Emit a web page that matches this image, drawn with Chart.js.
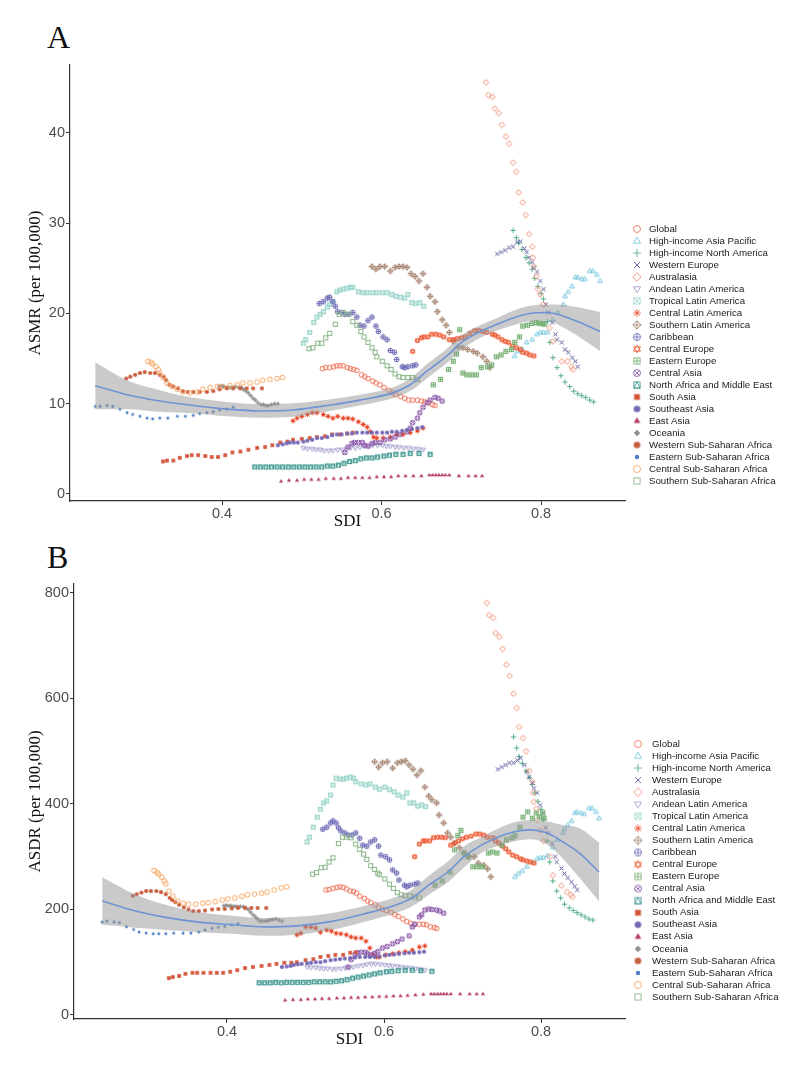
<!DOCTYPE html>
<html>
<head>
<meta charset="utf-8">
<script src="https://cdn.jsdelivr.net/npm/chart.js@4.4.1/dist/chart.umd.min.js"></script>
<style>
  body { margin: 0; background: #fff; width: 800px; height: 1079px; position: relative; overflow: hidden; }
  canvas { position: absolute; left: 0; }
  #chartA { top: 0; }
  #chartB { top: 540px; }
  .panel { position: absolute; left: 47px; font-family: "Liberation Serif", "Times New Roman", serif; font-size: 32px; line-height: 32px; color: #111; }
</style>
</head>
<body>
<div class="panel" style="top:21px">A</div>
<div class="panel" style="top:541px">B</div>
<canvas id="chartA" width="800" height="540"></canvas>
<canvas id="chartB" width="800" height="539"></canvas>
<script>
// Regioni GBD, nell'ordine della legenda.
const regions = [
  "Global", "High-income Asia Pacific", "High-income North America", "Western Europe",
  "Australasia", "Andean Latin America", "Tropical Latin America", "Central Latin America",
  "Southern Latin America", "Caribbean", "Central Europe", "Eastern Europe", "Central Asia",
  "North Africa and Middle East", "South Asia", "Southeast Asia", "East Asia", "Oceania",
  "Western Sub-Saharan Africa", "Eastern Sub-Saharan Africa", "Central Sub-Saharan Africa",
  "Southern Sub-Saharan Africa",
];

// SDI, ASMR e ASDR, una serie per regione.
const sdiGlobal = [0.526,0.530,0.535,0.540,0.544,0.548,0.552,0.557,0.561,0.565,0.569,0.575,0.579,0.583,0.589,0.593,0.598,0.603,0.609,0.614,0.618,0.624,0.629,0.634,0.639,0.645,0.650,0.654,0.659,0.664,0.667];
const asmrGlobal = [13.9,14.0,14.0,14.1,14.2,14.2,14.2,14.0,13.9,13.8,13.7,13.2,13.0,12.8,12.5,12.3,12.1,11.8,11.5,11.2,11.0,10.8,10.6,10.4,10.4,10.4,10.3,10.2,10.1,9.9,9.8];
const asdrGlobal = [237,238,240,242,243,242,239,235,234,231,225,221,216,213,209,204,200,198,194,190,187,182,177,174,172,172,172,171,167,166,164];

const sdiHiap = [0.767,0.771,0.776,0.782,0.789,0.795,0.799,0.803,0.808,0.815,0.821,0.828,0.830,0.834,0.839,0.843,0.846,0.851,0.855,0.861,0.865,0.870,0.874];
const asmrHiap = [15.3,15.8,16.1,16.8,17.1,17.7,17.9,17.9,17.9,19.3,20.1,21.0,21.9,22.4,23.0,24.0,24.0,23.8,23.8,24.7,24.7,24.3,23.6];
const asdrHiap = [262,268,273,281,290,296,298,298,302,318,332,345,352,360,368,383,385,383,381,392,392,385,373];

const sdiHina = [0.765,0.769,0.772,0.776,0.781,0.785,0.789,0.792,0.796,0.800,0.803,0.808,0.811,0.815,0.820,0.825,0.830,0.836,0.841,0.846,0.851,0.856,0.861,0.866];
const asmrHina = [29.2,28.4,27.8,27.1,26.2,25.6,24.9,23.9,23.0,22.2,21.6,19.1,16.8,15.1,14.0,13.1,12.4,11.9,11.4,11.1,10.9,10.7,10.4,10.2];
const asdrHina = [527,506,490,477,462,450,437,421,405,390,370,330,290,254,235,222,210,203,198,194,190,186,182,180];

const sdiWEurope = [0.745,0.750,0.755,0.760,0.765,0.770,0.774,0.779,0.782,0.785,0.789,0.791,0.795,0.799,0.803,0.806,0.809,0.814,0.818,0.820,0.826,0.830,0.834,0.839,0.843,0.846];
const asmrWEurope = [26.6,26.8,27.0,27.3,27.4,27.9,28.0,27.2,26.8,26.2,25.7,25.1,24.6,23.6,22.7,21.0,20.1,19.0,17.7,17.1,16.8,16.0,15.7,15.1,14.7,14.1];
const asdrWEurope = [466,470,474,478,478,483,487,474,461,451,440,430,421,398,383,355,345,325,300,290,278,268,260,252,244,237];

const sdiAustralasia = [0.731,0.734,0.739,0.742,0.747,0.751,0.756,0.760,0.765,0.769,0.772,0.777,0.781,0.785,0.789,0.790,0.791,0.794,0.796,0.799,0.803,0.811,0.815,0.826,0.833,0.838,0.840];
const asmrAustralasia = [45.6,44.2,44.0,42.7,42.2,40.9,39.6,38.8,36.7,35.7,33.4,32.3,30.9,28.8,27.4,26.2,25.2,24.1,22.7,22.1,21.0,18.4,16.9,14.7,14.7,14.1,13.8];
const asdrAustralasia = [781,758,753,724,717,694,664,643,609,582,546,525,500,463,442,421,404,391,370,350,330,300,265,245,233,228,224];

const sdiAndean = [0.502,0.507,0.513,0.518,0.523,0.528,0.534,0.539,0.545,0.551,0.556,0.561,0.567,0.573,0.578,0.584,0.589,0.595,0.601,0.606,0.611,0.617,0.622,0.628,0.634,0.640,0.646,0.652];
const asmrAndean = [5.1,5.0,5.0,4.9,4.9,4.8,4.8,4.8,4.9,4.9,5.0,5.1,5.1,5.2,5.3,5.3,5.4,5.4,5.4,5.3,5.3,5.2,5.2,5.1,5.1,5.0,5.0,4.9];
const asdrAndean = [91,90,90,89,88,88,87,87,88,89,90,91,93,94,96,97,97,96,95,94,93,92,91,90,89,88,87,85];

const sdiTropical = [0.502,0.505,0.510,0.515,0.519,0.523,0.527,0.532,0.535,0.539,0.544,0.548,0.552,0.557,0.561,0.564,0.571,0.577,0.582,0.589,0.594,0.601,0.607,0.613,0.618,0.624,0.629,0.633,0.638,0.643,0.648,0.653];
const asmrTropical = [16.7,17.1,17.9,19.0,19.6,19.9,20.2,20.7,21.0,21.3,22.4,22.6,22.7,22.8,22.9,22.9,22.4,22.3,22.3,22.3,22.3,22.3,22.3,22.1,21.9,21.8,21.7,22.1,21.2,21.1,21.2,20.8];
const asdrTropical = [328,337,356,375,390,402,406,417,436,449,447,447,449,451,449,442,438,436,438,432,428,432,427,423,417,413,421,402,402,396,398,395];

const sdiCentralLA = [0.489,0.494,0.500,0.507,0.513,0.519,0.527,0.533,0.539,0.545,0.552,0.558,0.564,0.571,0.577,0.582,0.586,0.590,0.594,0.602,0.611,0.619,0.627,0.636,0.645,0.652];
const asmrCentralLA = [8.1,8.4,8.6,8.8,9.0,9.0,8.8,8.6,8.4,8.6,8.4,8.4,8.3,8.0,7.7,7.4,6.9,6.3,6.2,6.2,6.3,6.6,6.6,6.8,7.0,7.3];
const asdrCentralLA = [152,155,167,167,165,157,161,159,155,154,152,148,146,146,140,127,115,110,110,114,116,118,120,123,129,131];

const sdiSouthernLA = [0.588,0.593,0.598,0.604,0.611,0.617,0.622,0.627,0.632,0.637,0.642,0.647,0.652,0.657,0.661,0.667,0.670,0.676,0.681,0.685,0.690,0.696,0.702,0.708,0.715,0.720,0.727,0.732,0.736];
const asmrSouthernLA = [25.2,24.9,25.2,25.2,24.7,25.1,25.2,25.2,25.1,24.4,24.1,23.6,24.4,22.9,21.9,21.3,20.2,19.3,18.7,17.9,16.9,16.3,16.2,16.0,15.8,15.6,15.2,14.7,14.0];
const asdrSouthernLA = [480,470,478,480,468,478,480,482,474,466,455,463,432,415,408,402,379,364,345,337,326,317,307,301,300,288,284,277,262];

const sdiCaribbean = [0.522,0.527,0.532,0.535,0.539,0.542,0.545,0.550,0.554,0.559,0.564,0.569,0.573,0.578,0.583,0.588,0.593,0.596,0.602,0.607,0.611,0.616,0.619,0.626,0.629,0.633,0.639,0.643];
const asmrCaribbean = [21.1,21.3,21.7,21.8,21.3,20.8,20.2,20.1,19.9,19.9,20.1,19.6,18.7,18.6,19.2,19.6,18.6,18.0,17.4,17.1,15.9,15.7,14.9,14.1,14.0,14.1,14.2,14.3];
const asdrCaribbean = [352,356,364,368,364,355,349,345,341,341,345,335,322,320,328,332,320,303,300,294,275,269,256,246,243,246,248,250];

const sdiCEurope = [0.639,0.645,0.650,0.653,0.658,0.663,0.668,0.673,0.678,0.685,0.690,0.695,0.700,0.705,0.711,0.717,0.722,0.727,0.732,0.739,0.742,0.746,0.751,0.755,0.759,0.764,0.769,0.774,0.777,0.782,0.786,0.791];
const asmrCEurope = [15.8,17.0,17.3,17.4,17.4,17.7,17.7,17.6,17.4,17.1,17.1,17.2,17.3,17.4,17.8,18.1,18.1,18.0,17.9,17.7,17.6,17.4,17.1,16.9,16.8,16.4,16.2,16.0,15.7,15.6,15.4,15.3];
const asdrCEurope = [300,324,330,330,330,336,337,337,336,322,326,330,334,337,339,343,343,341,337,336,330,326,320,315,309,303,300,296,294,292,290,288];

const sdiEEurope = [0.665,0.674,0.684,0.690,0.694,0.698,0.702,0.707,0.713,0.719,0.725,0.733,0.738,0.744,0.750,0.756,0.763,0.767,0.773,0.777,0.783,0.789,0.794,0.798,0.802,0.804];
const asmrEEurope = [12.1,12.7,13.8,14.7,15.5,18.2,13.4,13.2,13.2,13.2,14.0,14.1,14.3,15.2,15.4,15.8,16.0,16.8,17.4,18.6,18.7,18.9,19.0,18.9,18.9,18.8];
const asdrEEurope = [246,254,271,313,340,350,307,300,281,281,281,307,309,307,322,332,336,340,356,375,385,373,383,375,383,373];

const sdiCAsia = [0.554,0.558,0.563,0.566,0.571,0.576,0.579,0.583,0.588,0.592,0.598,0.604,0.611,0.617,0.623,0.632,0.636,0.639,0.645,0.648,0.652,0.657,0.661,0.667,0.671,0.676];
const asmrCAsia = [4.6,5.2,5.6,5.7,5.7,5.7,5.4,5.3,5.6,5.7,5.7,6.0,6.1,6.3,6.6,6.9,7.3,7.9,8.4,9.0,9.6,10.1,10.4,10.7,10.6,10.3];
const asdrCAsia = [91,105,115,118,119,119,116,114,117,120,127,130,135,139,144,150,167,172,186,190,199,201,200,199,197,193];

const sdiName = [0.441,0.448,0.455,0.462,0.469,0.476,0.483,0.490,0.497,0.504,0.511,0.518,0.525,0.532,0.539,0.546,0.553,0.560,0.567,0.574,0.581,0.588,0.595,0.603,0.610,0.618,0.627,0.636,0.647,0.661];
const asmrName = [3.0,3.0,3.0,3.0,3.0,3.0,3.0,3.0,3.0,3.0,3.0,3.0,3.0,3.1,3.1,3.2,3.4,3.6,3.7,3.9,4.0,4.0,4.1,4.2,4.3,4.4,4.4,4.5,4.5,4.4];
const asdrName = [61,61,61,62,61,62,62,62,62,62,63,63,63,63,64,65,67,70,72,74,76,78,80,82,83,84,85,85,84,83];

const sdiSAsia = [0.326,0.331,0.339,0.347,0.356,0.362,0.370,0.379,0.387,0.395,0.404,0.413,0.423,0.433,0.444,0.454,0.463,0.473,0.482,0.489,0.500,0.510,0.519,0.529,0.538,0.548,0.557,0.564];
const asmrSAsia = [3.6,3.7,3.7,4.0,4.2,4.3,4.3,4.2,4.1,4.1,4.3,4.6,4.7,4.9,5.1,5.2,5.4,5.7,5.8,6.0,6.1,6.2,6.3,6.4,6.6,6.6,6.7,6.8];
const asdrSAsia = [70,72,74,78,80,80,80,80,80,80,82,85,89,91,93,95,97,99,99,100,104,106,110,112,114,114,118,119];

const sdiSEAsia = [0.470,0.476,0.481,0.485,0.490,0.495,0.502,0.507,0.513,0.519,0.525,0.532,0.538,0.544,0.550,0.557,0.563,0.569,0.576,0.582,0.588,0.594,0.601,0.607,0.613,0.619,0.626,0.632,0.638,0.645,0.651];
const asmrSEAsia = [5.4,5.5,5.6,5.7,5.7,5.7,5.8,5.9,6.0,6.2,6.2,6.3,6.5,6.6,6.6,6.7,6.7,6.8,6.8,6.8,6.8,6.8,6.8,6.8,6.9,6.9,7.0,7.1,7.2,7.3,7.4];
const asdrSEAsia = [91,92,93,95,96,97,98,99,100,100,102,104,105,106,107,108,109,110,110,110,110,111,113,114,115,116,117,118,118,119,120];

const sdiEAsia = [0.474,0.484,0.494,0.503,0.512,0.521,0.530,0.540,0.549,0.558,0.567,0.576,0.585,0.594,0.603,0.612,0.621,0.630,0.640,0.650,0.660,0.664,0.668,0.672,0.676,0.680,0.685,0.697,0.709,0.718,0.726];
const asmrEAsia = [1.4,1.5,1.5,1.6,1.6,1.6,1.7,1.7,1.7,1.8,1.8,1.8,1.8,1.9,1.9,1.9,2.0,2.0,2.0,2.0,2.1,2.1,2.1,2.1,2.1,2.1,2.1,2.0,2.0,2.0,2.0];
const asdrEAsia = [28,29,29,30,30,31,31,32,32,33,33,34,34,35,35,36,36,37,38,39,40,40,40,40,40,40,40,40,40,40,40];

const sdiOceania = [0.396,0.399,0.402,0.405,0.408,0.411,0.414,0.417,0.421,0.424,0.427,0.430,0.433,0.436,0.439,0.442,0.445,0.449,0.452,0.455,0.458,0.462,0.466,0.470];
const asmrOceania = [11.9,12.0,11.9,11.8,11.8,11.8,11.8,11.9,11.8,11.8,11.6,11.4,11.2,10.9,10.6,10.4,10.1,9.9,9.9,9.8,9.8,9.9,10.0,10.0];
const asdrOceania = [207,208,207,207,206,206,205,206,205,203,200,195,190,186,182,178,178,178,179,180,181,182,180,178];

const sdiWSSA = [0.280,0.285,0.291,0.297,0.303,0.310,0.316,0.322,0.327,0.330,0.334,0.339,0.345,0.351,0.357,0.364,0.372,0.381,0.389,0.397,0.406,0.414,0.423,0.431,0.439,0.450];
const asmrWSSA = [12.8,13.0,13.2,13.4,13.5,13.4,13.4,13.2,13.0,12.6,12.1,11.9,11.7,11.4,11.3,11.3,11.3,11.3,11.4,11.6,11.7,11.7,11.7,11.7,11.7,11.7];
const asdrWSSA = [226,229,232,235,235,235,233,229,222,218,214,209,204,200,197,197,198,200,201,201,202,203,203,203,203,203];

const sdiESSA = [0.241,0.247,0.256,0.263,0.272,0.281,0.288,0.297,0.306,0.313,0.322,0.332,0.344,0.354,0.364,0.372,0.381,0.389,0.397,0.406,0.414];
const asmrESSA = [9.7,9.7,9.8,9.7,9.4,9.0,8.8,8.6,8.4,8.3,8.4,8.4,8.6,8.6,8.7,8.9,9.0,9.1,9.3,9.4,9.6];
const asdrESSA = [176,178,176,175,167,162,157,155,154,154,154,155,155,155,157,161,164,166,168,171,173];

const sdiCSSA = [0.307,0.311,0.313,0.317,0.320,0.322,0.326,0.331,0.337,0.344,0.351,0.360,0.369,0.376,0.385,0.394,0.401,0.410,0.419,0.426,0.435,0.444,0.451,0.460,0.469,0.476];
const asmrCSSA = [14.7,14.6,14.4,14.1,13.8,13.4,12.9,12.3,11.9,11.6,11.3,11.2,11.3,11.6,11.8,11.9,11.9,12.0,12.1,12.3,12.3,12.4,12.6,12.7,12.8,12.9];
const asdrCSSA = [274,270,267,261,254,249,235,225,216,212,210,210,212,213,215,218,220,222,225,228,229,231,233,237,241,243];

const sdiSSSA = [0.509,0.514,0.520,0.525,0.530,0.535,0.542,0.547,0.552,0.558,0.564,0.569,0.574,0.578,0.583,0.588,0.592,0.594,0.601,0.607,0.612,0.617,0.622,0.627,0.633,0.639,0.645];
const asmrSSSA = [16.1,16.2,16.7,16.7,17.3,17.8,18.8,19.9,20.1,19.9,19.1,18.7,18.0,17.4,16.8,16.2,15.7,15.2,14.7,14.2,13.8,13.3,13.0,12.9,12.9,12.9,12.7];
const asdrSSSA = [267,270,279,280,290,298,325,337,337,336,324,314,305,295,283,276,269,266,258,248,240,232,228,226,226,224,222];

// Curva loess e banda di confidenza.
const fitSdi = [0.241,0.281,0.322,0.364,0.406,0.448,0.489,0.532,0.573,0.614,0.636,0.657,0.682,0.702,0.724,0.745,0.765,0.786,0.808,0.828,0.849,0.874];
const asmrFit = [12.0,11.0,10.3,9.8,9.4,9.2,9.3,9.8,10.4,11.2,12.1,13.6,15.3,16.9,18.0,18.8,19.5,20.0,20.1,19.7,19.0,18.0];
const asmrUpper = [14.6,12.6,11.5,10.65,10.2,9.95,10.05,10.45,11.0,11.8,12.8,14.4,16.1,17.7,18.7,19.5,20.3,20.85,21.0,20.95,20.65,20.15];
const asmrLower = [9.4,9.4,9.1,8.95,8.6,8.45,8.55,9.15,9.8,10.6,11.4,12.8,14.5,16.1,17.3,18.1,18.7,19.15,19.2,18.45,17.35,15.85];
const asdrFit = [216,198,185,176,171,167,169,177,191,208,222,246,272,300,322,337,347,351,345,328,307,271];
const asdrUpper = [261,230,209,195,188,184,186,193,206,223,238,264,292,320,337,353,365,369,367,360,354,327];
const asdrLower = [171,166,161,157,154,150,152,161,176,193,206,228,252,280,307,321,329,333,323,296,260,215];

// Etichette degli assi.
const sdiTicks = [0.4, 0.6, 0.8];
const asmrTicks = [0, 10, 20, 30, 40];
const asdrTicks = [0, 200, 400, 600, 800];

const sdiSeries = [sdiGlobal, sdiHiap, sdiHina, sdiWEurope, sdiAustralasia, sdiAndean, sdiTropical, sdiCentralLA, sdiSouthernLA, sdiCaribbean, sdiCEurope, sdiEEurope, sdiCAsia, sdiName, sdiSAsia, sdiSEAsia, sdiEAsia, sdiOceania, sdiWSSA, sdiESSA, sdiCSSA, sdiSSSA];
const asmrSeries = [asmrGlobal, asmrHiap, asmrHina, asmrWEurope, asmrAustralasia, asmrAndean, asmrTropical, asmrCentralLA, asmrSouthernLA, asmrCaribbean, asmrCEurope, asmrEEurope, asmrCAsia, asmrName, asmrSAsia, asmrSEAsia, asmrEAsia, asmrOceania, asmrWSSA, asmrESSA, asmrCSSA, asmrSSSA];
const asdrSeries = [asdrGlobal, asdrHiap, asdrHina, asdrWEurope, asdrAustralasia, asdrAndean, asdrTropical, asdrCentralLA, asdrSouthernLA, asdrCaribbean, asdrCEurope, asdrEEurope, asdrCAsia, asdrName, asdrSAsia, asdrSEAsia, asdrEAsia, asdrOceania, asdrWSSA, asdrESSA, asdrCSSA, asdrSSSA];

// Stile dei simboli (forme ggplot 1-22).
const regionColors = ["#EE6E55", "#6FC4DB", "#55AE8B", "#4D4C95", "#F28D70", "#9D99CB", "#9DD6CB", "#E94B2E", "#A58470", "#6E6CB6", "#EE5B33", "#74AF72", "#8B57A8", "#3F9791", "#D4553C", "#7568B6", "#B13A63", "#8F8F8F", "#C95D3F", "#4B7DC3", "#F6A45E", "#86B586"];
const regionShapes = ["circle", "triangle", "plus", "cross", "diamond", "triangleDown", "squareCross", "asterisk", "diamondPlus", "circlePlus", "starDavid", "squarePlus", "circleCross", "squareTriangle", "squareFilled", "circleFilled", "triangleFilled", "diamondFilled", "circleFilled", "dot", "circle", "square"];

// Disegna un simbolo su un piccolo canvas da usare come pointStyle.
function makeSymbol(shape, color, r, lw) {
  const size = Math.ceil(r * 2.6 + 4);
  const c = document.createElement("canvas");
  c.width = size;
  c.height = size;
  const g = c.getContext("2d");
  g.translate(size / 2, size / 2);
  g.strokeStyle = color;
  g.fillStyle = color;
  g.lineWidth = lw;
  const h = r * 0.88;
  const line = (x1, y1, x2, y2) => { g.beginPath(); g.moveTo(x1, y1); g.lineTo(x2, y2); g.stroke(); };
  const tri = (down) => {
    const s = down ? -1 : 1;
    g.beginPath();
    g.moveTo(0, -s * r * 1.1);
    g.lineTo(r * 1.0, s * r * 0.62);
    g.lineTo(-r * 1.0, s * r * 0.62);
    g.closePath();
  };
  const diamond = (d) => {
    g.beginPath();
    g.moveTo(0, -d); g.lineTo(d, 0); g.lineTo(0, d); g.lineTo(-d, 0);
    g.closePath();
  };
  const circle = () => { g.beginPath(); g.arc(0, 0, r, 0, Math.PI * 2); };

  switch (shape) {
    case "circle": circle(); g.stroke(); break;
    case "triangle": tri(false); g.stroke(); break;
    case "triangleDown": tri(true); g.stroke(); break;
    case "plus": line(-r * 1.15, 0, r * 1.15, 0); line(0, -r * 1.15, 0, r * 1.15); break;
    case "cross": line(-r * 0.85, -r * 0.85, r * 0.85, r * 0.85); line(-r * 0.85, r * 0.85, r * 0.85, -r * 0.85); break;
    case "diamond": diamond(r * 1.2); g.stroke(); break;
    case "squareCross": g.strokeRect(-h, -h, 2 * h, 2 * h); line(-h, -h, h, h); line(-h, h, h, -h); break;
    case "asterisk":
      line(-r * 1.1, 0, r * 1.1, 0); line(0, -r * 1.1, 0, r * 1.1);
      line(-r * 0.8, -r * 0.8, r * 0.8, r * 0.8); line(-r * 0.8, r * 0.8, r * 0.8, -r * 0.8);
      break;
    case "diamondPlus": diamond(r * 1.2); g.stroke(); line(-r * 1.2, 0, r * 1.2, 0); line(0, -r * 1.2, 0, r * 1.2); break;
    case "circlePlus": circle(); g.stroke(); line(-r, 0, r, 0); line(0, -r, 0, r); break;
    case "starDavid": tri(false); g.stroke(); tri(true); g.stroke(); break;
    case "squarePlus": g.strokeRect(-h, -h, 2 * h, 2 * h); line(-h, 0, h, 0); line(0, -h, 0, h); break;
    case "circleCross": {
      const d = r * 0.707;
      circle(); g.stroke(); line(-d, -d, d, d); line(-d, d, d, -d);
      break;
    }
    case "squareTriangle":
      g.strokeRect(-h, -h, 2 * h, 2 * h);
      g.beginPath(); g.moveTo(0, -h); g.lineTo(h, h); g.lineTo(-h, h); g.closePath(); g.stroke();
      break;
    case "squareFilled": g.fillRect(-h, -h, 2 * h, 2 * h); break;
    case "circleFilled": circle(); g.fill(); break;
    case "triangleFilled": tri(false); g.fill(); break;
    case "diamondFilled": diamond(r * 1.2); g.fill(); break;
    case "dot": circle(); g.fill(); break;
    case "square": g.strokeRect(-h, -h, 2 * h, 2 * h); break;
  }
  return c;
}

function symbolRadius(shape, legend) {
  if (shape === "dot") return legend ? 2.2 : 1.45;
  if (shape === "diamondFilled") return legend ? 2.7 : 1.8;
  if (shape.endsWith("Filled")) return legend ? 3.3 : 2.1;
  return legend ? 3.5 : 2.35;
}

const pointSymbols = regionShapes.map((s, i) => makeSymbol(s, regionColors[i], symbolRadius(s, false), 1.0));
const legendSymbols = regionShapes.map((s, i) => makeSymbol(s, regionColors[i], symbolRadius(s, true), 0.85));

// Legenda disegnata a destra del grafico.
const regionLegend = {
  id: "regionLegend",
  afterDraw(chart, args, opts) {
    const ctx = chart.ctx;
    ctx.save();
    ctx.font = '9.7px "Liberation Sans", Arial, sans-serif';
    ctx.fillStyle = "#1a1a1a";
    ctx.textBaseline = "middle";
    regions.forEach((name, i) => {
      const y = opts.top + i * opts.step;
      const sym = legendSymbols[i];
      ctx.drawImage(sym, opts.symbolX - sym.width / 2, y - sym.height / 2);
      ctx.fillText(name, opts.textX, y);
    });
    ctx.restore();
  },
};

function buildDatasets(metricSeries, fit, upper, lower) {
  const points = regions.map((name, i) => ({
    label: name,
    data: sdiSeries[i].map((s, k) => ({ x: s, y: metricSeries[i][k] })),
    pointStyle: pointSymbols[i],
    pointRadius: 2,
    pointHoverRadius: 2,
    order: 100 - i,
  }));
  const band = [
    {
      type: "line",
      label: "upper",
      data: fitSdi.map((s, k) => ({ x: s, y: upper[k] })),
      borderWidth: 0,
      pointRadius: 0,
      backgroundColor: "rgba(150, 150, 150, 0.5)",
      fill: "+1",
      cubicInterpolationMode: "monotone",
      order: 1,
    },
    {
      type: "line",
      label: "lower",
      data: fitSdi.map((s, k) => ({ x: s, y: lower[k] })),
      borderWidth: 0,
      pointRadius: 0,
      fill: false,
      cubicInterpolationMode: "monotone",
      order: 1,
    },
    {
      type: "line",
      label: "fit",
      data: fitSdi.map((s, k) => ({ x: s, y: fit[k] })),
      borderColor: "#6E94D4",
      borderWidth: 1.6,
      pointRadius: 0,
      fill: false,
      cubicInterpolationMode: "monotone",
      order: 0,
    },
  ];
  return [...points, ...band];
}

const axisFont = { family: '"Liberation Sans", Arial, sans-serif', size: 14.5 };
const titleFont = { family: '"Liberation Serif", "Times New Roman", serif', size: 17, lineHeight: 1 };

function createPanel(canvasId, cfg) {
  const ctx = document.getElementById(canvasId).getContext("2d");
  new Chart(ctx, {
    type: "scatter",
    data: { datasets: buildDatasets(cfg.series, cfg.fit, cfg.upper, cfg.lower) },
    plugins: [regionLegend],
    options: {
      responsive: false,
      animation: false,
      devicePixelRatio: 1,
      events: [],
      layout: { padding: { top: cfg.padTop, right: 175, bottom: 0, left: 0 } },
      plugins: {
        legend: { display: false },
        tooltip: { enabled: false },
        regionLegend: cfg.legend,
      },
      scales: {
        x: {
          type: "linear",
          min: cfg.xMin,
          max: cfg.xMax,
          afterBuildTicks: (scale) => { scale.ticks = sdiTicks.map((v) => ({ value: v })); },
          afterFit: (scale) => { scale.height = cfg.xAxisHeight; },
          ticks: { color: "#4d4d4d", font: axisFont, padding: 0, callback: (v) => v.toFixed(1), maxRotation: 0 },
          grid: { display: true, drawOnChartArea: false, drawTicks: true, tickLength: 4, color: "#333" },
          border: { display: true, color: "#333", width: 1.2 },
          title: { display: true, text: "SDI", color: "#111", font: titleFont, padding: { top: 0, bottom: cfg.xTitlePad } },
        },
        y: {
          min: cfg.yMin,
          max: cfg.yMax,
          afterBuildTicks: (scale) => { scale.ticks = cfg.ticks.map((v) => ({ value: v })); },
          afterFit: (scale) => { scale.width = cfg.yAxisWidth; },
          ticks: { color: "#4d4d4d", font: axisFont, padding: 1 },
          grid: { display: true, drawOnChartArea: false, drawTicks: true, tickLength: 4, color: "#333" },
          border: { display: true, color: "#333", width: 1.2 },
          title: { display: true, text: cfg.yTitle, color: "#111", font: titleFont, padding: { top: 27.5, bottom: 0 } },
        },
      },
    },
  });
}

createPanel("chartA", {
  series: asmrSeries, fit: asmrFit, upper: asmrUpper, lower: asmrLower,
  ticks: asmrTicks, yTitle: "ASMR (per 100,000)",
  xMin: 0.2094, xMax: 0.9053, yMin: -0.78, yMax: 47.53,
  padTop: 65, xAxisHeight: 39, yAxisWidth: 70, xTitlePad: 9.5,
  legend: { top: 229, step: 12, symbolX: 637, textX: 649 },
});

createPanel("chartB", {
  series: asdrSeries, fit: asdrFit, upper: asdrUpper, lower: asdrLower,
  ticks: asdrTicks, yTitle: "ASDR (per 100,000)",
  xMin: 0.2051, xMax: 0.907, yMin: -7.6, yMax: 817,
  padTop: 44, xAxisHeight: 60, yAxisWidth: 74, xTitlePad: 30.5,
  legend: { top: 204, step: 12.05, symbolX: 638, textX: 652 },
});
</script>
</body>
</html>
